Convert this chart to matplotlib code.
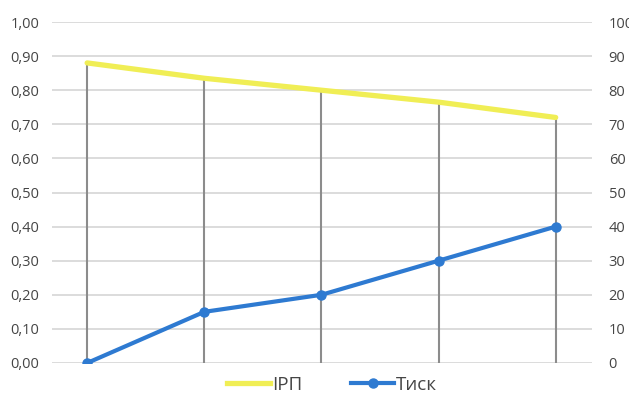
import matplotlib
matplotlib.use("Agg")
import matplotlib.pyplot as plt
from matplotlib.lines import Line2D

plt.rcParams['font.family'] = ['Open Sans', 'DejaVu Sans']

# Series data
points = [1, 2, 3, 4, 5]
irp = [0.88, 0.835, 0.80, 0.765, 0.72]
pressure = [0, 15, 20, 30, 40]

left_ticks = [i / 10 for i in range(11)]
left_labels = [f"{v:.2f}".replace(".", ",") for v in left_ticks]
right_ticks = list(range(0, 101, 10))

text_color = "#454545"
grid_color = "#d9d9d9"
yellow = "#f0ee55"
blue = "#2e7ad1"

fig = plt.figure(figsize=(6.29, 3.99), dpi=100)
ax = fig.add_axes([52 / 629, 36 / 399, 540 / 629, 341 / 399])
ax2 = ax.twinx()

xs = list(range(len(points)))

# Horizontal gridlines
for t in left_ticks:
    ax.axhline(t, color=grid_color, lw=1.3, zorder=0)

# Drop lines from the primary series down to the axis
ax.vlines(xs, 0, irp, color="#8c8c8c", lw=1.5, zorder=1)
ax.plot(xs, irp, color=yellow, lw=3.8, solid_capstyle="round", zorder=3)

ax2.plot(xs, pressure, color=blue, lw=3.0, marker="o", ms=6.5,
         solid_capstyle="round", zorder=3)

ax.set_xlim(-0.3, 4.31)
ax.set_ylim(0, 1)
ax2.set_ylim(0, 100)

ax.set_yticks(left_ticks)
ax.set_yticklabels(left_labels)
ax2.set_yticks(right_ticks)
ax.set_xticks([])

for a in (ax, ax2):
    for s in a.spines.values():
        s.set_visible(False)
    a.tick_params(axis="y", length=0, labelsize=10.5, colors=text_color)
ax.tick_params(axis="y", pad=9)
ax2.tick_params(axis="y", pad=12)

handles = [
    Line2D([], [], color=yellow, lw=3.8),
    Line2D([], [], color=blue, lw=3.0, marker="o", ms=6.5),
]
fig.legend(handles, ["ІРП", "Тиск"], loc="center", bbox_to_anchor=(332 / 629, 1 - 385 / 399),
           ncol=2, frameon=False, fontsize=13.5, labelcolor=text_color,
           handlelength=2.3, handletextpad=0.1, columnspacing=2.6)

fig.savefig("out.png", dpi=100)
